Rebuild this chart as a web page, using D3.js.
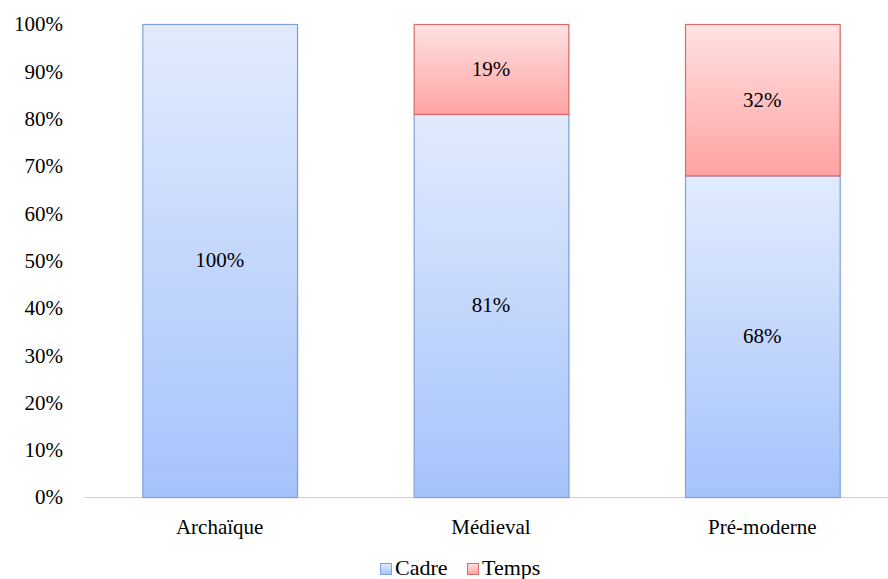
<!DOCTYPE html>
<html><head><meta charset="utf-8">
<script src="https://cdn.jsdelivr.net/npm/d3@7"></script>
</head><body style="margin:0">
<svg id="c" width="888" height="579"></svg>
<script>
const categories = ["Archaïque", "Médieval", "Pré-moderne"];
const seriesNames = ["Cadre", "Temps"];
const cadre = [100, 81, 68];
const temps = [0, 19, 32];
const yTicks = [0,10,20,30,40,50,60,70,80,90,100];

const svg = d3.select("#c");
const W = 888, H = 579;
const m = {left: 84, right: -10, top: 24, bottom: 82};
const x = d3.scaleBand().domain(categories).range([m.left, W - m.right]).paddingInner(0.43).paddingOuter(0.215);
const y = d3.scaleLinear().domain([0, 100]).range([H - m.bottom, m.top]);

const defs = svg.append("defs");
const grads = {
  Cadre: {top: "#e2ebfd", bot: "#a5c3fb", stroke: "#7fa2d9"},
  Temps: {top: "#ffe2e2", bot: "#ffa3a3", stroke: "#d96b6b"}
};
Object.entries(grads).forEach(([k, g]) => {
  const lg = defs.append("linearGradient").attr("id", "g" + k).attr("x1", 0).attr("x2", 0).attr("y1", 0).attr("y2", 1);
  lg.append("stop").attr("offset", "0%").attr("stop-color", g.top);
  lg.append("stop").attr("offset", "100%").attr("stop-color", g.bot);
});

function styleText(sel, size) {
  sel.style("font-family", "'Times New Roman'").style("font-size", (size || 21) + "px").style("fill", "#000");
}

// y axis labels
const yAxis = d3.axisLeft(y).tickValues(yTicks).tickFormat(d => d + "%").tickSize(0).tickPadding(0);
const ya = svg.append("g").attr("transform", `translate(63,0)`).call(yAxis);
ya.attr("font-family", null).attr("font-size", null);
ya.select(".domain").remove();
ya.selectAll("text").attr("dy", "0.33em").call(styleText);

// x axis line
svg.append("line").attr("x1", m.left).attr("x2", W).attr("y1", y(0) + 0.5).attr("y2", y(0) + 0.5).attr("stroke", "#d0d0d0").attr("stroke-width", 1);

// stacked data
const data = categories.map((c, i) => ({cat: c, Cadre: cadre[i], Temps: temps[i]}));
const stack = d3.stack().keys(seriesNames)(data);

stack.forEach(layer => {
  const key = layer.key;
  layer.forEach(d => {
    const v = d[1] - d[0];
    if (v <= 0) return;
    const bx = x(d.data.cat), bw = x.bandwidth();
    const y0 = y(d[0]), y1 = y(d[1]);
    svg.append("rect").attr("x", bx + 1.5).attr("y", y1 + 1.5).attr("width", bw).attr("height", y0 - y1)
      .attr("fill", "#000").attr("fill-opacity", 0.08);
    svg.append("rect").attr("x", bx + 0.5).attr("y", y1 + 0.5).attr("width", bw).attr("height", y0 - y1)
      .attr("fill", `url(#g${key})`).attr("stroke", grads[key].stroke).attr("stroke-width", 1.2);
  });
});
stack.forEach(layer => {
  layer.forEach(d => {
    const v = d[1] - d[0];
    if (v <= 0) return;
    const bx = x(d.data.cat), bw = x.bandwidth();
    const y0 = y(d[0]), y1 = y(d[1]);
    svg.append("text").attr("x", bx + bw / 2).attr("y", (y0 + y1) / 2).attr("dy", "0.33em").attr("text-anchor", "middle")
      .text(v + "%").call(styleText);
  });
});

// x labels
const xAxis = d3.axisBottom(x).tickSize(0).tickPadding(0);
const xa = svg.append("g").attr("transform", `translate(0,527)`).call(xAxis);
xa.attr("font-family", null).attr("font-size", null);
xa.select(".domain").remove();
xa.selectAll("text").attr("dy", "0.33em").call(styleText);

// legend
const legX = [380, 467];
seriesNames.forEach((s, i) => {
  const gx = legX[i];
  svg.append("rect").attr("x", gx + 0.5).attr("y", 563.5).attr("width", 11).attr("height", 11)
    .attr("fill", `url(#g${s})`).attr("stroke", grads[s].stroke).attr("stroke-width", 1);
  svg.append("text").attr("x", gx + 15).attr("y", 568).attr("dy", "0.33em").text(s).call(styleText, 22);
});
</script>
</body></html>
